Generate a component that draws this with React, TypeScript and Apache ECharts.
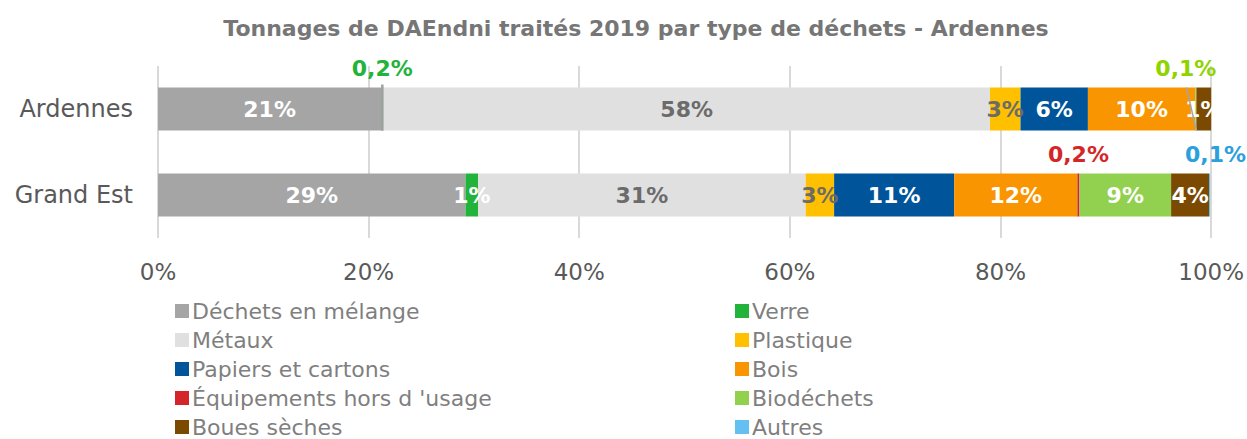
import React, { useEffect, useRef } from "react";
import * as echarts from "echarts";

const title = "Tonnages de DAEndni traités 2019 par type de déchets - Ardennes";
const regions = ["Ardennes", "Grand Est"];
const xTicks = [0, 20, 40, 60, 80, 100];

const categories = [
  "Déchets en mélange",
  "Verre",
  "Métaux",
  "Plastique",
  "Papiers et cartons",
  "Bois",
  "Équipements hors d 'usage",
  "Biodéchets",
  "Boues sèches",
  "Autres",
];
const melange = [21.2, 29.2];
const verre = [0.2, 1.2];
const metaux = [57.6, 31.1];
const plastique = [2.9, 2.7];
const papiers = [6.4, 11.4];
const bois = [10.2, 11.7];
const equipements = [0, 0.2];
const biodechets = [0.1, 8.7];
const boues = [1.4, 3.6];
const autres = [0, 0.1];

const seriesValues = [melange, verre, metaux, plastique, papiers, bois, equipements, biodechets, boues, autres];
const colors = ["#a5a5a5", "#22b33a", "#e0e0e0", "#ffc000", "#00549a", "#f89500", "#d42628", "#92d050", "#7b4a00", "#63c0f0"];
const labelColors = ["#ffffff", "#ffffff", "#6b6b6b", "#6b6b6b", "#ffffff", "#ffffff", "#ffffff", "#ffffff", "#ffffff", "#ffffff"];
const smallLabelColors = ["#22b33a", "#22b33a", "#22b33a", "#22b33a", "#22b33a", "#22b33a", "#d42628", "#8fd400", "#7b4a00", "#2ca0dc"];
const leftLegend = [0, 2, 4, 6, 8];
const rightLegend = [1, 3, 5, 7, 9];

const FONT = "DejaVu Sans";
const BAR = 43;

export default function App() {
  const ref = useRef<HTMLDivElement>(null);
  useEffect(() => {
    if (!ref.current) return;
    const chart = echarts.init(ref.current, null, { renderer: "svg" });
    const series = categories.map((name, si) => ({
      name,
      type: "bar",
      stack: "total",
      barWidth: BAR,
      itemStyle: { color: colors[si] },
      data: seriesValues[si].map((v, ri) => {
        const small = v > 0 && v < 0.5;
        const item: any = { value: v };
        if (small) {
          item.label = {
            show: true,
            position: "top",
            distance: 8,
            offset: si === 7 && ri === 0 ? [-10, 0] : si === 9 ? [6, 0] : [0, 0],
            color: smallLabelColors[si],
            fontSize: 22,
            fontWeight: "bold",
            fontFamily: FONT,
            formatter: () => String(v).replace(".", ",") + "%",
          };
        } else if (v > 0) {
          item.label = {
            show: true,
            position: "inside",
            color: labelColors[si],
            fontSize: 22,
            fontWeight: "bold",
            fontFamily: FONT,
            formatter: () => Math.round(v) + "%",
          };
        } else {
          item.label = { show: false };
        }
        return item;
      }),
    }));
    const legendBase = {
      orient: "vertical",
      top: 300,
      height: 160,
      padding: 0,
      itemWidth: 14,
      itemHeight: 14,
      itemGap: 7,
      icon: "rect",
      textStyle: { color: "#7f7f7f", fontSize: 22, fontFamily: FONT, padding: [0, 0, 0, -2] },
    };
    chart.setOption({
      animation: false,
      title: {
        text: title,
        left: 631,
        textAlign: "center",
        top: 12,
        textStyle: { color: "#767676", fontSize: 22, fontWeight: "bold", fontFamily: FONT },
      },
      legend: [
        { ...legendBase, left: 175, data: leftLegend.map((i) => categories[i]) },
        { ...legendBase, left: 735, data: rightLegend.map((i) => categories[i]) },
      ],
      grid: { left: 158, right: 34, top: 66, height: 172, containLabel: false },
      xAxis: {
        type: "value",
        min: 0,
        max: 100,
        interval: 20,
        axisLine: { show: false },
        axisTick: { show: false },
        splitLine: { lineStyle: { color: "#d9d9d9", width: 2 } },
        axisLabel: {
          color: "#595959",
          fontSize: 23,
          fontFamily: FONT,
          margin: 22,
          formatter: (v: number) => (xTicks.includes(v) ? v + "%" : ""),
        },
      },
      yAxis: {
        type: "category",
        inverse: true,
        data: regions,
        axisLine: { show: false },
        axisTick: { show: false },
        axisLabel: { color: "#595959", fontSize: 24, fontFamily: FONT, margin: 25 },
      },
      series,
    });

    // leader lines for the small Ardennes labels
    const verreMid = melange[0] + verre[0] / 2;
    const bioEnd =
      melange[0] + verre[0] + metaux[0] + plastique[0] + papiers[0] + bois[0] + equipements[0] + biodechets[0];
    const pVerre = chart.convertToPixel({ gridIndex: 0 }, [verreMid, regions[0]]) as number[];
    const pBio = chart.convertToPixel({ gridIndex: 0 }, [bioEnd, regions[0]]) as number[];
    chart.setOption({
      graphic: [
        {
          type: "line",
          shape: { x1: pVerre[0], y1: pVerre[1] - BAR / 2 - 3, x2: pVerre[0], y2: pVerre[1] + BAR / 2 },
          style: { stroke: "#a0a0a0", lineWidth: 2.5 },
          z: 100,
        },
        {
          type: "line",
          shape: { x1: pBio[0] - 10, y1: pBio[1] - BAR / 2, x2: pBio[0], y2: pBio[1] + BAR / 2 },
          style: { stroke: "#a6a6a6", lineWidth: 1.5 },
          z: 100,
        },
      ],
    });
    return () => chart.dispose();
  }, []);
  return <div ref={ref} style={{ position: "absolute", left: 0, top: 0, width: 1247, height: 439 }} />;
}
